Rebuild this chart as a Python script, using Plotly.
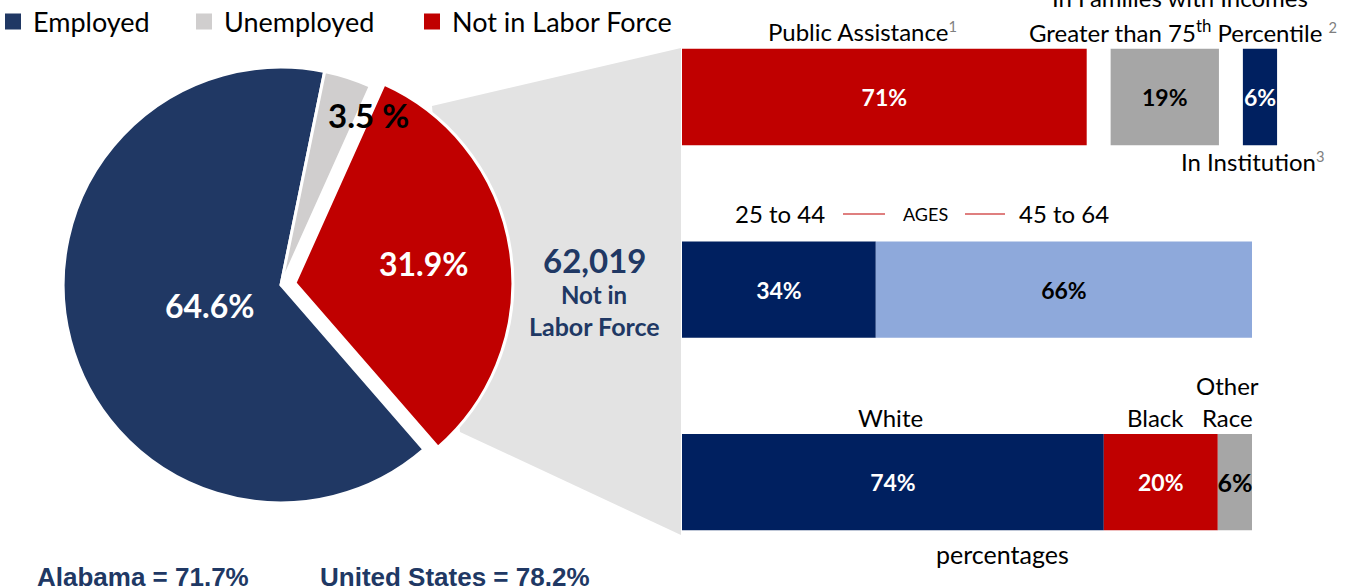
import plotly.graph_objects as go

W, H = 1358, 588

# ---- data ----
status_labels = ["Employed", "Unemployed", "Not in Labor Force"]
status_values = [64.6, 3.5, 31.9]
not_in_lf_count = "62,019"
lfp_rates = {"Alabama": 71.7, "United States": 78.2}

income_labels = ["Public Assistance", "Greater than 75th Percentile", "In Institution"]
income_values = [71, 19, 6]
age_labels = ["25 to 44", "45 to 64"]
age_values = [34, 66]
race_labels = ["White", "Black", "Other Race"]
race_values = [74, 20, 6]
bar_rows = ["income", "age", "race"]

# ---- styling ----
NAVY_PIE = "#203864"
NAVY = "#002060"
RED = "#C00000"
GREY_PIE = "#D0CECE"
GREY = "#A6A6A6"
LIGHT_BLUE = "#8EA9DB"
FONT = "Lato"
BOLD_FONT = "Liberation Sans"
status_colors = [NAVY_PIE, GREY_PIE, RED]


def px(x):
    return x / W


def py(y):
    return 1 - y / H


fig = go.Figure()

# connector wedge behind the pie
fig.add_shape(
    type="path", xref="paper", yref="paper", layer="below",
    path=(f"M {px(432)} {py(106)} L {px(681)} {py(48)} L {px(681)} {py(535)} "
          f"L {px(460)} {py(432)} Z"),
    fillcolor="#E3E3E3", line=dict(width=0),
)

fig.add_trace(go.Pie(
    labels=status_labels,
    values=status_values,
    sort=False,
    direction="clockwise",
    rotation=139,
    pull=[0, 0, 0.065],
    marker=dict(colors=status_colors, line=dict(color="white", width=3)),
    textinfo="none",
    hoverinfo="label+value",
    showlegend=False,
    domain=dict(x=[px(48), px(514)], y=[py(517), py(53)]),
))

# legend entries (one legend box each so they can be spaced like the original)
legend_names = ["legend", "legend2", "legend3"]
legend_text_x = [33, 224, 452]
for lbl, col, lg in zip(status_labels, status_colors, legend_names):
    fig.add_trace(go.Scatter(
        x=[None], y=[None], mode="markers", name=lbl, legend=lg,
        marker=dict(symbol="square", size=16, color=col),
        showlegend=True, hoverinfo="skip",
    ))


def add_bar(name, row, value, base, color, text_color, size=23):
    fig.add_trace(go.Bar(
        y=[row], x=[value], base=[base], orientation="h",
        name=name, showlegend=False,
        marker=dict(color=color, line=dict(width=0)),
        width=0.5,
        text=[f"{value}%"], textposition="inside", insidetextanchor="middle",
        constraintext="none", cliponaxis=False,
        textfont=dict(family=FONT, size=size, color=text_color, weight="bold"),
        textangle=0,
    ))


GAP = 4.2
income_colors = [RED, GREY, NAVY]
income_text = ["white", "black", "white"]
base = 0
for lbl, v, c, t in zip(income_labels, income_values, income_colors, income_text):
    add_bar(lbl, bar_rows[0], v, base, c, t)
    base += v + GAP

base = 0
for lbl, v, c, t in zip(age_labels, age_values, [NAVY, LIGHT_BLUE], ["white", "black"]):
    add_bar(lbl, bar_rows[1], v, base, c, t)
    base += v

base = 0
for lbl, v, c, t, s in zip(race_labels, race_values, [NAVY, RED, GREY],
                           ["white", "white", "black"], [23, 23, 25]):
    add_bar(lbl, bar_rows[2], v, base, c, t, s)
    base += v

SCALE = 5.7  # px per percent
fig.update_xaxes(domain=[px(682), 1], range=[0, (W - 682) / SCALE], visible=False)
row_px = 192.5
fig.update_yaxes(domain=[0, 1], type="category", categoryorder="array",
                 categoryarray=bar_rows,
                 range=[(H - 97) / row_px, -97 / row_px], visible=False)


def note(x, y, text, size=24, color="black", family=FONT, bold=False, **kw):
    fig.add_annotation(
        x=px(x), y=py(y), xref="paper", yref="paper", text=text, showarrow=False,
        font=dict(family=family, size=size, color=color, weight="bold" if bold else "normal"),
        xanchor=kw.pop("xanchor", "center"), yanchor=kw.pop("yanchor", "middle"), **kw,
    )


SUP = "<span style='color:#7F7F7F;font-size:21px'><sup>{}</sup></span>"

# pie labels
note(210, 305, f"{status_values[0]}%", size=32, color="white", bold=True)
note(368, 115, f"{status_values[1]} %", size=33, color="black", bold=True)
note(424, 263, f"{status_values[2]}%", size=32, color="white", bold=True)
note(594, 260, not_in_lf_count, size=33, color=NAVY_PIE, bold=True)
note(594, 295, "Not in", size=24, color=NAVY_PIE, bold=True)
note(594, 326, "Labor Force", size=25, color=NAVY_PIE, bold=True)

# bar category labels
note(862, 31, income_labels[0] + SUP.format(1))
note(1180, -3, "In Families with Incomes")
note(1183, 31, "Greater than 75<sup>th</sup> Percentile " + SUP.format(2))
note(1252, 161, income_labels[2] + SUP.format(3))

note(780, 213, age_labels[0])
note(925, 214, "AGES", size=18)
note(1064, 213, age_labels[1])
for x0, x1 in [(843, 885), (965, 1005)]:
    fig.add_shape(type="line", xref="paper", yref="paper",
                  x0=px(x0), x1=px(x1), y0=py(214), y1=py(214),
                  line=dict(color=RED, width=1.2))

note(890, 417, race_labels[0])
note(1155, 417, race_labels[1])
note(1227, 385, "Other")
note(1227, 417, "Race")
note(1002, 554, "percentages", size=25)

# participation comparison
for (place, rate), x in zip(lfp_rates.items(), [35, 318]):
    note(x, 577, f"{place} = {rate}%", size=26, color=NAVY_PIE, family=BOLD_FONT,
         bold=True, xanchor="left")

legend_style = dict(
    orientation="h", y=py(22), xanchor="left", yanchor="middle",
    font=dict(family=FONT, size=27, color="black"),
    itemclick=False, itemdoubleclick=False, bgcolor="rgba(0,0,0,0)",
)

fig.update_layout(
    width=W, height=H,
    margin=dict(l=0, r=0, t=0, b=0, autoexpand=False),
    paper_bgcolor="white", plot_bgcolor="white",
    barmode="overlay",
    font=dict(family=FONT, size=24, color="black"),
    **{lg: dict(legend_style, x=px(tx - 40)) for lg, tx in zip(legend_names, legend_text_x)},
)

fig.write_html("out.html", config={"displayModeBar": False},
               post_script="document.body.style.margin = '0';")
